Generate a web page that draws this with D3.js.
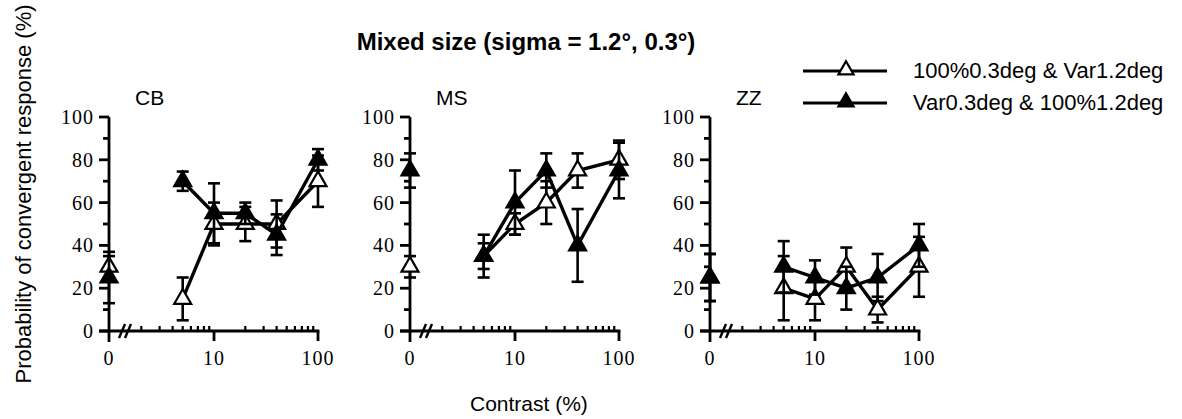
<!DOCTYPE html>
<head>
<meta charset="utf-8">
<title>Mixed size (sigma = 1.2°, 0.3°)</title>
<script src="https://d3js.org/d3.v7.min.js"></script>
<style>
body { margin: 0; background: #fff; }
.axis line, .axis path { stroke: #000; stroke-width: 2.8; fill: none; }
.tick_label { font-family: "Liberation Serif", serif; font-size: 20px; fill: #000; letter-spacing: 1px; }
.serie { fill: none; stroke: #000; stroke-width: 3.4; }
.err { stroke: #000; stroke-width: 2.6; }
.label { font-family: "Liberation Sans", Arial, sans-serif; fill: #000; }
</style>
</head>
<body>
<div id="container"></div>
<script>

//------------------------ DATA -------------------------//

var contrasts = [0, 5, 10, 20, 40, 100];
var subjects = ["CB", "MS", "ZZ"];

// open triangles: 100%0.3deg & Var1.2deg
var cbOpen = [30, 15, 50, 50, 50, 70];
var cbOpenErr = [5, 10, 10, 8, 11, 12];
var msOpen = [30, 35, 50, 60, 75, 80];
var msOpenErr = [5, 6, 5, 10, 8, 9];
var zzOpen = [25, 20, 15, 30, 10, 30];
var zzOpenErr = [11, 15, 10, 9, 6, 14];

// filled triangles: Var0.3deg & 100%1.2deg
var cbFilled = [25, 70, 55, 55, 45, 80];
var cbFilledErr = [12, 4.5, 14, 5, 9.5, 5];
var msFilled = [75, 35, 60, 75, 40, 75];
var msFilledErr = [8, 10, 15, 8, 17, 13];
var zzFilled = [25, 30, 25, 20, 25, 40];
var zzFilledErr = [11, 12, 8, 10, 11, 10];

var yTicks = [0, 20, 40, 60, 80, 100];
var yMinor = [10, 30, 50, 70, 90];
var xMajor = [10, 100];
var xMinor = [2, 3, 4, 5, 6, 7, 8, 9, 20, 30, 40, 50, 60, 70, 80, 90];
var legendNames = ["100%0.3deg & Var1.2deg", "Var0.3deg & 100%1.2deg"];

var panels = [
  {name: subjects[0], open: cbOpen, openErr: cbOpenErr, filled: cbFilled, filledErr: cbFilledErr},
  {name: subjects[1], open: msOpen, openErr: msOpenErr, filled: msFilled, filledErr: msFilledErr},
  {name: subjects[2], open: zzOpen, openErr: zzOpenErr, filled: zzFilled, filledErr: zzFilledErr}
];

//------------------------ SVG -------------------------//

var W = 1182, H = 419;
var svg = d3.select("div#container").append("svg")
    .attr("width", W).attr("height", H);

var panelX = [109, 410, 710];   // position of y axis of each panel
var y0 = 331, y100 = 117;

var yScale = d3.scaleLinear().domain([0, 100]).range([y0, y100]);
var tri = d3.symbol().type(d3.symbolTriangle).size(125);

panels.forEach(function(p, i) {
  var x0 = panelX[i];
  var xLog = d3.scaleLog().domain([1, 100]).range([x0 + 1, x0 + 209]);
  var xPos = function(c) { return c === 0 ? x0 : xLog(c); };

  var g = svg.append("g");

  //-------------- AXES --------------//
  var ax = g.append("g").attr("class", "axis");
  ax.append("line").attr("x1", x0).attr("x2", x0).attr("y1", yScale(100)).attr("y2", y0 + 11);
  ax.append("line").attr("x1", x0 - 10).attr("x2", xLog(100) + 1.4).attr("y1", y0).attr("y2", y0);

  ax.selectAll(".ymaj").data(yTicks).enter().append("line")
    .attr("x1", x0 - 10).attr("x2", x0)
    .attr("y1", function(d) { return yScale(d); }).attr("y2", function(d) { return yScale(d); });
  ax.selectAll(".ymin").data(yMinor).enter().append("line")
    .attr("x1", x0 - 6).attr("x2", x0)
    .attr("y1", function(d) { return yScale(d); }).attr("y2", function(d) { return yScale(d); });
  ax.selectAll(".xmaj").data(xMajor).enter().append("line")
    .attr("x1", function(d) { return xLog(d); }).attr("x2", function(d) { return xLog(d); })
    .attr("y1", y0).attr("y2", y0 + 10);
  ax.selectAll(".xmin").data(xMinor).enter().append("line")
    .style("stroke-width", 2.2)
    .attr("x1", function(d) { return xLog(d); }).attr("x2", function(d) { return xLog(d); })
    .attr("y1", y0).attr("y2", y0 - 5);

  // axis break "//"
  [10, 16].forEach(function(dx) {
    ax.append("line").style("stroke-width", 2.4)
      .attr("x1", x0 + dx).attr("y1", y0 + 7)
      .attr("x2", x0 + dx + 6).attr("y2", y0 - 7);
  });

  g.selectAll(".ylab").data(yTicks).enter().append("text")
    .attr("class", "tick_label")
    .attr("x", x0 - 15).attr("y", function(d) { return yScale(d); })
    .attr("dy", "0.35em").attr("text-anchor", "end")
    .text(function(d) { return d; });

  g.selectAll(".xlab").data([0].concat(xMajor)).enter().append("text")
    .attr("class", "tick_label")
    .attr("x", function(d) { return xPos(d); }).attr("y", 365)
    .attr("text-anchor", "middle")
    .text(function(d) { return d; });

  g.append("text").attr("class", "label")
    .attr("x", x0 + 26).attr("y", 105)
    .style("font-size", "21px")
    .text(p.name);

  //-------------- SERIES --------------//
  var line = d3.line()
    .x(function(d) { return xPos(d.c); })
    .y(function(d) { return yScale(d.v); });

  [["open", "openErr", "#fff"], ["filled", "filledErr", "#000"]].forEach(function(s) {
    var pts = contrasts.map(function(c, k) { return {c: c, v: p[s[0]][k], e: p[s[1]][k]}; });
    var sg = g.append("g");
    sg.append("path").attr("class", "serie").attr("d", line(pts.slice(1)));
    sg.selectAll(".err").data(pts).enter().append("line").attr("class", "err")
      .attr("x1", function(d) { return xPos(d.c); }).attr("x2", function(d) { return xPos(d.c); })
      .attr("y1", function(d) { return yScale(d.v - d.e); })
      .attr("y2", function(d) { return yScale(d.v + d.e); });
    [-1, 1].forEach(function(sign) {
      sg.selectAll(".cap").data(pts).enter().append("line").attr("class", "err")
        .attr("x1", function(d) { return xPos(d.c) - 6; })
        .attr("x2", function(d) { return xPos(d.c) + 6; })
        .attr("y1", function(d) { return yScale(d.v + sign * d.e); })
        .attr("y2", function(d) { return yScale(d.v + sign * d.e); });
    });
    sg.selectAll(".pt").data(pts).enter().append("path")
      .attr("d", tri)
      .attr("transform", function(d) { return "translate(" + xPos(d.c) + "," + yScale(d.v) + ")"; })
      .style("fill", s[2]).style("stroke", "#000").style("stroke-width", 2.2);
  });
});

//------------------------ TITLES -------------------------//

svg.append("text").attr("class", "label")
  .attr("x", 526).attr("y", 50).attr("text-anchor", "middle")
  .style("font-size", "24px").style("font-weight", "bold")
  .text("Mixed size (sigma = 1.2°, 0.3°)");

svg.append("text").attr("class", "label")
  .attr("transform", "translate(31,194) rotate(-90)")
  .attr("text-anchor", "middle")
  .style("font-size", "22px")
  .text("Probability of convergent response (%)");

svg.append("text").attr("class", "label")
  .attr("x", 470).attr("y", 411)
  .style("font-size", "21px")
  .text("Contrast (%)");

//------------------------ LEGEND -------------------------//

var legY = [71, 103];
var legFill = ["#fff", "#000"];
var legTri = d3.symbol().type(d3.symbolTriangle).size(100);
legendNames.forEach(function(name, i) {
  svg.append("line").attr("x1", 803).attr("x2", 887)
    .attr("y1", legY[i]).attr("y2", legY[i])
    .style("stroke", "#000").style("stroke-width", 2.8);
  svg.append("path").attr("d", legTri)
    .attr("transform", "translate(846," + (legY[i] - 1) + ")")
    .style("fill", legFill[i]).style("stroke", "#000").style("stroke-width", 2.2);
  svg.append("text").attr("class", "label")
    .attr("x", 913).attr("y", legY[i] + 7)
    .style("font-size", "22px")
    .text(name);
});

</script>
</body>
